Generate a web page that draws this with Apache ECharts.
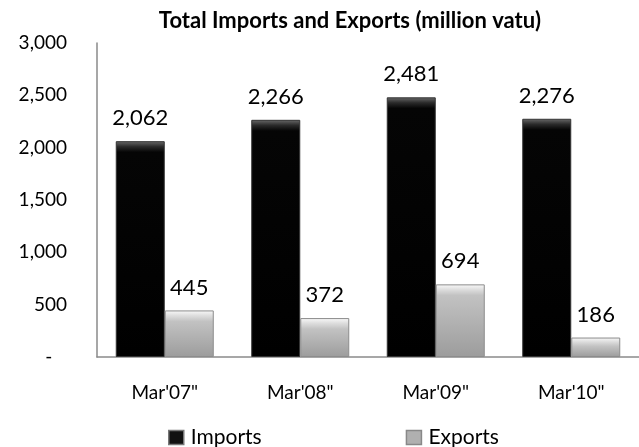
<!DOCTYPE html>
<html>
<head>
<meta charset="utf-8">
<script src="https://cdn.jsdelivr.net/npm/echarts@6/dist/echarts.min.js"></script>
<style>
  html, body { margin: 0; padding: 0; background: #fff; }
  #chart { width: 639px; height: 447px; }
</style>
</head>
<body>
<div id="chart"></div>
<script>
var categories = ['Mar\'07"', 'Mar\'08"', 'Mar\'09"', 'Mar\'10"'];
var imports = [2062, 2266, 2481, 2276];
var exports = [445, 372, 694, 186];
var yTicks = { min: 0, max: 3000, step: 500 };

var font = 'Lato, "Open Sans", sans-serif';
var plotTop = 43, plotBottom = 90;
var plotH = 447 - plotTop - plotBottom;

function fmt(v) {
    if (v === 0) return '-   ';
    return String(v).replace(/\B(?=(\d{3})+(?!\d))/g, ',');
}

// bevel: light strip at the top of each bar, about 10px tall
function bevel(v, top, mid, base, bottom) {
    var h = v / yTicks.max * plotH;
    var f = Math.min(0.45, 11 / h);
    return new echarts.graphic.LinearGradient(0, 0, 0, 1, [
        { offset: 0, color: top },
        { offset: f * 0.5, color: mid },
        { offset: f, color: base },
        { offset: 1, color: bottom }
    ]);
}

var importItems = imports.map(function (v) {
    return { value: v, itemStyle: { color: bevel(v, '#6a6a6a', '#2a2a2a', '#050505', '#000') } };
});
var exportItems = exports.map(function (v) {
    return { value: v, itemStyle: { color: bevel(v, '#fafafa', '#dcdcdc', '#c2c2c2', '#9c9c9c') } };
});

var chart = echarts.init(document.getElementById('chart'));

chart.setOption({
    animation: false,
    title: {
        text: 'Total Imports and Exports (million vatu)',
        left: 345,
        textAlign: 'center',
        top: 5,
        textStyle: { fontFamily: font, fontWeight: 'bold', fontSize: 22, color: '#000' }
    },
    legend: {
        top: 422,
        left: 163,
        itemGap: 144,
        itemWidth: 15,
        itemHeight: 14,
        textStyle: { fontFamily: font, fontSize: 21, color: '#000', padding: [0, 0, 0, 2] },
        data: [
            { name: 'Imports', icon: 'rect', itemStyle: { color: '#111', borderColor: '#777', borderWidth: 1.5 } },
            { name: 'Exports', icon: 'rect', itemStyle: { color: '#b0b0b0', borderColor: '#888', borderWidth: 1.5 } }
        ]
    },
    grid: { left: 97, right: 0, top: plotTop, bottom: plotBottom },
    xAxis: {
        type: 'category',
        data: categories,
        axisLine: { lineStyle: { color: '#8a8a8a', width: 1.5 } },
        axisTick: { show: false },
        axisLabel: { fontFamily: font, fontSize: 19, color: '#000', margin: 26 }
    },
    yAxis: {
        type: 'value',
        min: yTicks.min,
        max: yTicks.max,
        interval: yTicks.step,
        splitLine: { show: false },
        axisLine: { show: true, lineStyle: { color: '#8a8a8a', width: 1.5 } },
        axisTick: { show: false },
        axisLabel: { fontFamily: font, fontSize: 19, color: '#000', margin: 30, formatter: fmt }
    },
    series: [
        {
            name: 'Imports',
            type: 'bar',
            data: importItems,
            barWidth: 49,
            barGap: '0%',
            itemStyle: { borderColor: '#333', borderWidth: 1 },
            label: {
                show: true, position: 'top', distance: 12,
                fontFamily: font, fontSize: 22, color: '#000',
                formatter: function (p) { return fmt(p.value); }
            }
        },
        {
            name: 'Exports',
            type: 'bar',
            data: exportItems,
            barWidth: 49,
            itemStyle: { borderColor: '#8c8c8c', borderWidth: 1 },
            label: {
                show: true, position: 'top', distance: 12,
                fontFamily: font, fontSize: 22, color: '#000',
                formatter: function (p) { return fmt(p.value); }
            }
        }
    ]
});
</script>
</body>
</html>
